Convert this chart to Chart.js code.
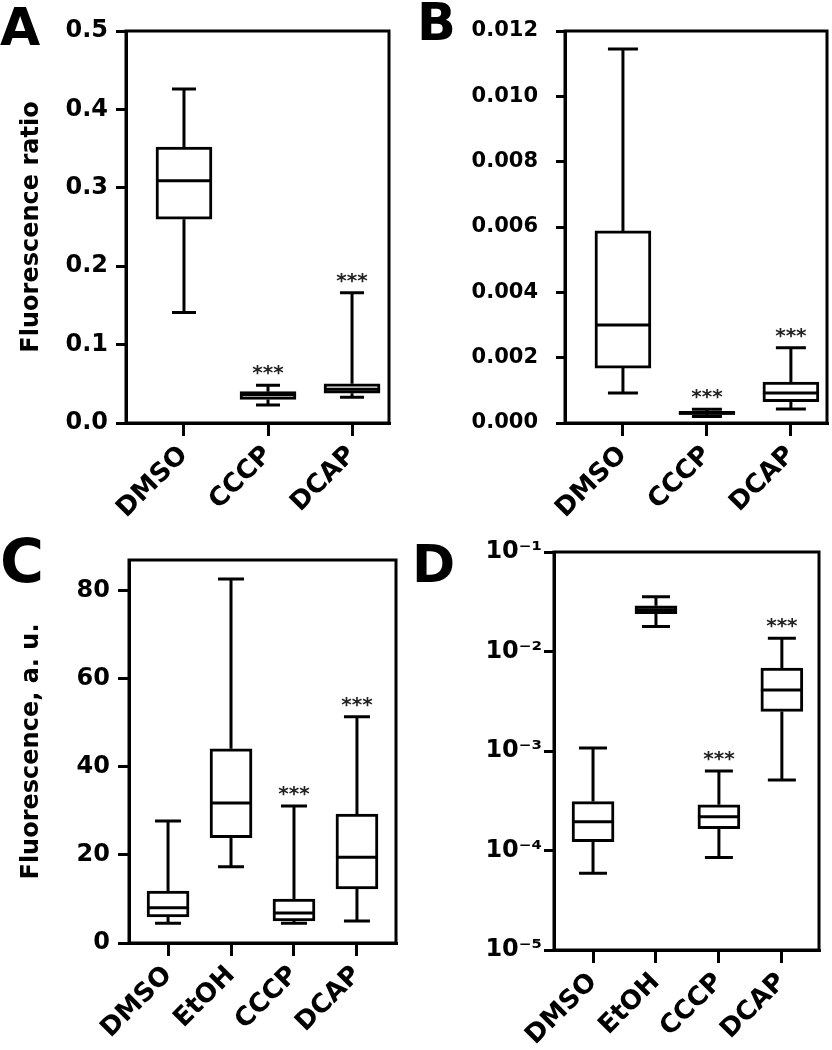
<!DOCTYPE html>
<html>
<head>
<meta charset="utf-8">
<title>Fluorescence box plots</title>
<script src="https://cdn.jsdelivr.net/npm/chart.js@4.4.1/dist/chart.umd.min.js"></script>
<style>
  html, body { margin: 0; padding: 0; background: #fff; }
  #wrap { position: relative; width: 832px; height: 1050px; }
  canvas { position: absolute; }
</style>
</head>
<body>
<div id="wrap">
  <canvas id="panelA" width="410" height="525" style="left:0;top:0"></canvas>
  <canvas id="panelB" width="422" height="525" style="left:410px;top:0"></canvas>
  <canvas id="panelC" width="410" height="525" style="left:0;top:525px"></canvas>
  <canvas id="panelD" width="422" height="525" style="left:410px;top:525px"></canvas>
</div>
<script>
(function () {
  "use strict";

  var FONT = "'DejaVu Sans', sans-serif";

  // Categories
  var catsAB = ["DMSO", "CCCP", "DCAP"];
  var catsCD = ["DMSO", "EtOH", "CCCP", "DCAP"];

  // Panel A - fluorescence ratio
  var aMin = [0.141, 0.023, 0.033];
  var aQ1 = [0.260, 0.030, 0.038];
  var aMed = [0.309, 0.036, 0.043];
  var aQ3 = [0.352, 0.040, 0.050];
  var aMax = [0.426, 0.048, 0.166];
  var aSig = ["", "***", "***"];
  var aTicks = [0, 0.1, 0.2, 0.3, 0.4, 0.5];

  // Panel B
  var bMin = [0.00092, 0.00020, 0.00043];
  var bQ1 = [0.00168, 0.00026, 0.00065];
  var bMed = [0.00300, 0.00030, 0.00092];
  var bQ3 = [0.00588, 0.00036, 0.00125];
  var bMax = [0.01145, 0.00042, 0.00230];
  var bSig = ["", "***", "***"];
  var bTicks = [0, 0.002, 0.004, 0.006, 0.008, 0.010, 0.012];

  // Panel C - fluorescence, a. u.
  var cMin = [4.5, 17.3, 4.5, 5.0];
  var cQ1 = [5.9, 23.9, 5.0, 12.3];
  var cMed = [8.0, 31.8, 6.8, 19.5];
  var cQ3 = [11.8, 44.1, 10.0, 29.3];
  var cMax = [27.7, 82.7, 31.1, 51.4];
  var cSig = ["", "", "***", "***"];
  var cTicks = [0, 20, 40, 60, 80];

  // Panel D - log scale
  var dMin = [5.9e-5, 0.0178, 8.5e-5, 5.1e-4];
  var dQ1 = [1.23e-4, 0.024, 1.66e-4, 2.5e-3];
  var dMed = [1.95e-4, 0.0263, 2.19e-4, 4.1e-3];
  var dQ3 = [3.1e-4, 0.0288, 2.88e-4, 6.8e-3];
  var dMax = [1.07e-3, 0.0355, 6.3e-4, 0.0136];
  var dSig = ["", "", "***", "***"];
  var dTicks = [1e-5, 1e-4, 1e-3, 1e-2, 1e-1];

  var SUP = { "-": "\u207B", "0": "\u2070", "1": "\u00B9", "2": "\u00B2", "3": "\u00B3", "4": "\u2074", "5": "\u2075" };
  function powLabel(v) {
    var e = String(Math.round(Math.log10(v)));
    return "10" + e.split("").map(function (c) { return SUP[c]; }).join("");
  }

  // whiskers, caps, medians, significance stars and the frame
  var boxPlugin = {
    id: "boxWhisker",
    afterDatasetsDraw: function (chart, args, o) {
      var ctx = chart.ctx;
      var x = chart.scales.x, y = chart.scales.y;
      var bars = chart.getDatasetMeta(0).data;
      ctx.save();
      ctx.strokeStyle = "#000";
      ctx.lineWidth = 3;
      for (var i = 0; i < o.med.length; i++) {
        var px = x.getPixelForValue(i);
        var half = bars[i].width / 2;
        var cap = o.cap / 2;
        var yMin = y.getPixelForValue(o.min[i]);
        var yMax = y.getPixelForValue(o.max[i]);
        ctx.beginPath();
        ctx.moveTo(px, y.getPixelForValue(o.q3[i]));
        ctx.lineTo(px, yMax);
        ctx.moveTo(px, y.getPixelForValue(o.q1[i]));
        ctx.lineTo(px, yMin);
        ctx.moveTo(px - cap, yMax);
        ctx.lineTo(px + cap, yMax);
        ctx.moveTo(px - cap, yMin);
        ctx.lineTo(px + cap, yMin);
        ctx.moveTo(px - half, y.getPixelForValue(o.med[i]));
        ctx.lineTo(px + half, y.getPixelForValue(o.med[i]));
        ctx.stroke();
        if (o.sig[i]) {
          ctx.fillStyle = "#222";
          ctx.font = "bold 20px " + FONT;
          ctx.textAlign = "center";
          ctx.textBaseline = "alphabetic";
          ctx.fillText(o.sig[i], px, yMax - 6);
        }
      }
      var a = chart.chartArea;
      ctx.strokeRect(a.left, a.top, a.right - a.left, a.bottom - a.top);
      ctx.restore();
    },
  };

  // Panel letter
  var letterPlugin = {
    id: "panelLetter",
    afterDraw: function (chart, args, o) {
      var ctx = chart.ctx;
      ctx.save();
      ctx.fillStyle = "#000";
      ctx.font = "bold " + o.size + "px " + FONT;
      ctx.textAlign = "left";
      ctx.textBaseline = "alphabetic";
      ctx.fillText(o.text, o.x, o.y);
      ctx.restore();
    },
  };

  function boxChart(id, o) {
    var cats = o.cats;
    return new Chart(document.getElementById(id), {
      type: "bar",
      data: {
        datasets: [
          {
            data: cats.map(function (c, i) {
              return { x: i, y: [o.q1[i], o.q3[i]] };
            }),
            backgroundColor: "#fff",
            borderColor: "#000",
            borderWidth: 3,
            borderSkipped: false,
            barThickness: o.boxWidth,
          },
        ],
      },
      options: {
        responsive: false,
        animation: false,
        events: [],
        layout: { padding: o.pad },
        plugins: {
          legend: { display: false },
          tooltip: { enabled: false },
          boxWhisker: { min: o.min, q1: o.q1, med: o.med, q3: o.q3, max: o.max, sig: o.sig, cap: o.cap },
          panelLetter: o.letter,
        },
        scales: {
          x: {
            type: "linear",
            offset: false,
            min: o.xMin,
            max: o.xMax,
            afterBuildTicks: function (s) {
              s.ticks = cats.map(function (c, i) { return { value: i }; });
            },
            afterFit: function (s) {
              s.height = o.xHeight;
              s.paddingLeft = 0;
              s.paddingRight = 0;
            },
            ticks: {
              autoSkip: false,
              minRotation: 45,
              maxRotation: 45,
              padding: 4,
              color: "#000",
              font: { family: FONT, weight: "bold", size: 26 },
              callback: function (v) { return cats[v]; },
            },
            grid: {
              offset: false,
              drawOnChartArea: false,
              tickLength: 13,
              color: "#000",
              lineWidth: 3,
              tickColor: "#000",
              tickWidth: 3,
            },
            border: { display: true, color: "#000", width: 3 },
          },
          y: {
            type: o.yType,
            min: o.yMin,
            max: o.yMax,
            afterBuildTicks: function (s) {
              s.ticks = o.ticks.map(function (v) { return { value: v }; });
            },
            afterFit: function (s) {
              s.width = o.yWidth;
              s.paddingTop = 0;
              s.paddingBottom = 0;
            },
            ticks: {
              padding: o.yPad,
              color: "#000",
              font: { family: FONT, weight: "bold", size: o.yFont },
              callback: o.fmt,
            },
            grid: {
              drawOnChartArea: false,
              tickLength: o.yTick,
              color: "#000",
              lineWidth: 3,
              tickColor: "#000",
              tickWidth: 3,
            },
            border: { display: true, color: "#000", width: 3 },
            title: {
              display: !!o.yTitle,
              text: o.yTitle,
              color: "#000",
              font: { family: FONT, weight: "bold", size: 24 },
              padding: { top: 17, bottom: 0 },
            },
          },
        },
      },
      plugins: [boxPlugin, letterPlugin],
    });
  }

  // Panel A
  boxChart("panelA", {
    cats: catsAB, min: aMin, q1: aQ1, med: aMed, q3: aQ3, max: aMax, sig: aSig, ticks: aTicks,
    yType: "linear", yMin: 0, yMax: 0.5, yTitle: "Fluorescence ratio",
    fmt: function (v) { return v.toFixed(1); },
    pad: { top: 31, right: 21, left: 0, bottom: 0 },
    yWidth: 126, xHeight: 102, xMin: -0.69, xMax: 2.44,
    yFont: 24, yPad: 8, yTick: 10, boxWidth: 56, cap: 24,
    letter: { text: "A", x: 0, y: 45, size: 52 },
  });

  // Panel B
  boxChart("panelB", {
    cats: catsAB, min: bMin, q1: bQ1, med: bMed, q3: bQ3, max: bMax, sig: bSig, ticks: bTicks,
    yType: "linear", yMin: 0, yMax: 0.012, yTitle: "",
    fmt: function (v) { return v.toFixed(3); },
    pad: { top: 31, right: 5, left: 0, bottom: 0 },
    yWidth: 155, xHeight: 102, xMin: -0.69, xMax: 2.43,
    yFont: 21, yPad: 18, yTick: 9, boxWidth: 56, cap: 30,
    letter: { text: "B", x: 7, y: 40, size: 51 },
  });

  // Panel C
  boxChart("panelC", {
    cats: catsCD, min: cMin, q1: cQ1, med: cMed, q3: cQ3, max: cMax, sig: cSig, ticks: cTicks,
    yType: "linear", yMin: 0, yMax: 87, yTitle: "Fluorescence, a. u.",
    fmt: function (v) { return String(v); },
    pad: { top: 35, right: 14, left: 0, bottom: 0 },
    yWidth: 129, xHeight: 107, xMin: -0.62, xMax: 3.62,
    yFont: 24, yPad: 8, yTick: 11, boxWidth: 42, cap: 26,
    letter: { text: "C", x: 0, y: 57, size: 60 },
  });

  // Panel D
  boxChart("panelD", {
    cats: catsCD, min: dMin, q1: dQ1, med: dMed, q3: dQ3, max: dMax, sig: dSig, ticks: dTicks,
    yType: "logarithmic", yMin: 1e-5, yMax: 1e-1, yTitle: "",
    fmt: powLabel,
    pad: { top: 27, right: 13, left: 0, bottom: 0 },
    yWidth: 144, xHeight: 100, xMin: -0.62, xMax: 3.59,
    yFont: 24, yPad: 2, yTick: 10, boxWidth: 42, cap: 28,
    letter: { text: "D", x: 2, y: 57, size: 52 },
  });
})();
</script>
</body>
</html>
